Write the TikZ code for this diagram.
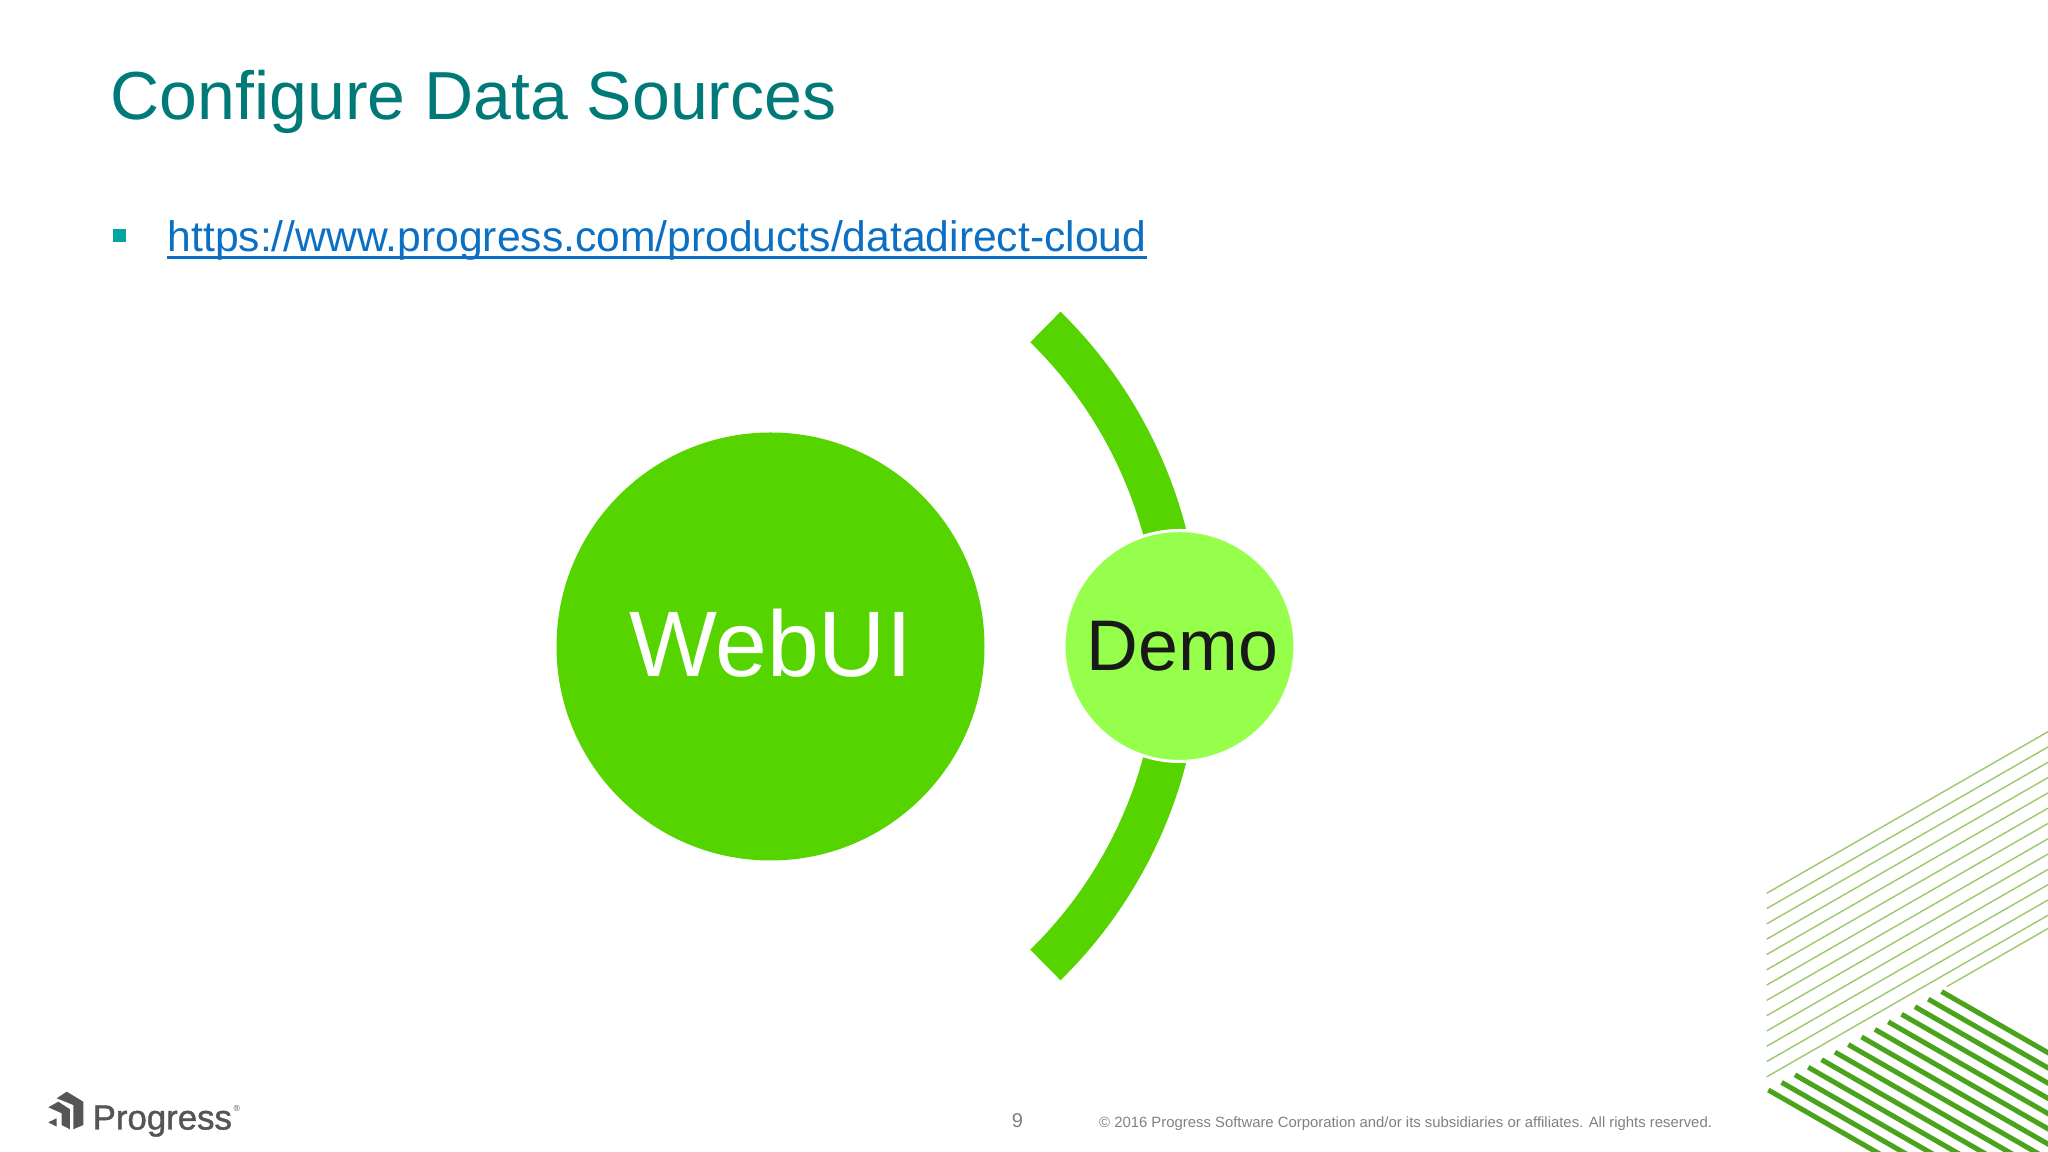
\documentclass[tikz,border=0pt]{standalone}
\usepackage{fontspec}
\setmainfont{Liberation Sans}
\newfontfamily\logofont[FakeBold=1.2]{Liberation Sans}
\usepackage{xcolor}
\definecolor{titleteal}{HTML}{007A78}
\definecolor{bulletteal}{HTML}{00A5A0}
\definecolor{linkblue}{HTML}{0B6FC4}
\definecolor{webgreen}{HTML}{55D400}
\definecolor{demogreen}{HTML}{96FF4C}
\definecolor{thingreen}{HTML}{9CC86A}
\definecolor{darkgreen}{HTML}{4BA31C}
\definecolor{logogray}{HTML}{555555}
\newcommand{\fsz}[1]{\fontsize{#1}{#1}\selectfont}
\begin{document}
\begin{tikzpicture}[main node/.style={circle,inner sep=0pt},
label node/.style={inner sep=0pt,anchor=base west}]
\useasboundingbox (0,0) rectangle (20.48,11.52);
\clip (0,0) rectangle (20.48,11.52);
% heading and link
\node[label node,text=titleteal,font=\fsz{19.35}] (title) at (1.10,10.32) {Configure Data Sources};
\node[fill=bulletteal,minimum size=.13cm,inner sep=0pt] (bullet) at (1.19,9.165) {};
\node[label node,text=linkblue,font=\fsz{12.13}] (link) at (1.67,9.005) {https://www.progress.com/products/datadirect-cloud};
\draw[linkblue,line width=.03cm] ([yshift=-.06cm]link.base west) -- ([yshift=-.06cm]link.base east);
% big arc behind the small circle
\coordinate (arccenter) at (7.33,5.06);
\draw[webgreen,line width=.43cm] (arccenter) ++(45.6:4.465) arc[start angle=45.6,end angle=-45.6,radius=4.465];
\node[main node,fill=webgreen,minimum size=4.28cm,text=white,font=\fsz{26.5}] (webui) at (7.705,5.055) {\raisebox{.08cm}{WebUI}};
\node[main node,fill=demogreen,draw=white,line width=.03cm,minimum size=2.31cm,text=black!90,font=\fsz{20.4}] (demo) at (11.795,5.06) {\hspace{.06cm}Demo};
% stripes in the corner
\foreach \i in {0,...,12}
  \draw[thingreen,line width=.014cm] (17.667,2.587-.153*\i) -- ++(2.813,1.616);
\draw[thingreen,line width=.014cm] (19.467,1.653) -- ++(1.013,.582);
\foreach \i in {0,...,13}
  \draw[darkgreen,line width=.05cm] (17.683+.1333*\i,.62+.0757*\i) -- ++(3,-1.723);
% footer
\fill[logogray] (.567,.537) -- (.667,.603) -- (.833,.503) -- (.833,.27) -- (.733,.227) -- (.733,.47) -- cycle;
\fill[logogray] (.483,.447) -- (.583,.503) -- (.70,.427) -- (.70,.227) -- (.617,.27) -- (.617,.387) -- cycle;
\fill[logogray] (.483,.297) -- (.567,.337) -- (.567,.253) -- cycle;
\node[label node,text=logogray,font=\logofont\fsz{9.9}] (logo) at (.92,.225) {Progress};
\node[label node,text=logogray,font=\fsz{2.5}] (logomark) at (2.33,.40) {®};
\node[text=black!50,font=\fsz{5.7},inner sep=0pt] (pagenum) at (10.175,.31) {9};
\node[label node,text=black!50,font=\fsz{4.23}] (copyright) at (10.985,.24) {© 2016 Progress Software Corporation and/or its subsidiaries or affiliates. All rights reserved.};
\end{tikzpicture}
\end{document}
